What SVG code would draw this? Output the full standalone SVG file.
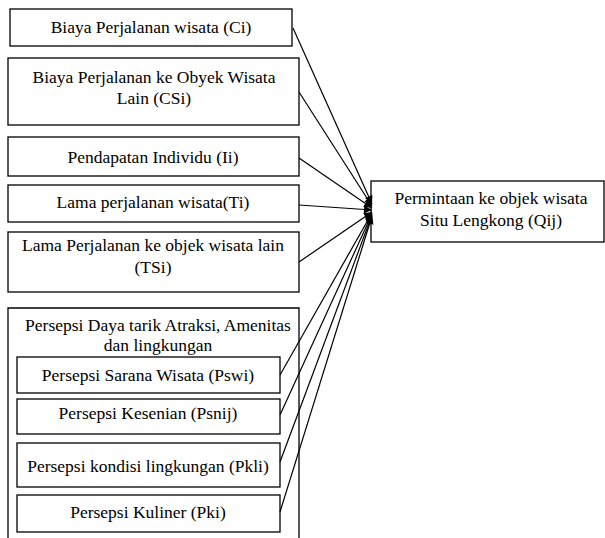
<svg xmlns="http://www.w3.org/2000/svg" width="605" height="538" viewBox="0 0 605 538">
<defs>
<marker id="ah" viewBox="0 0 10 10" refX="10" refY="5" markerWidth="9" markerHeight="8" markerUnits="userSpaceOnUse" orient="auto">
<path d="M0,0 L10,5 L0,10 z" fill="#000"/>
</marker>
<style>
rect{fill:#fff;stroke:#000;stroke-width:1.3}
text{font-family:"Liberation Serif","Times New Roman",serif;font-size:17.5px;fill:#000;text-anchor:middle}
#connectors line{stroke:#000;stroke-width:1.2;marker-end:url(#ah)}
</style>
</defs>
<rect x="0" y="0" width="605" height="538" style="fill:#fff;stroke:none"/>
<g id="ci"><rect x="10" y="9" width="282" height="37"/><text x="151" y="33">Biaya Perjalanan wisata (Ci)</text></g>
<g id="csi"><rect x="8" y="58" width="291" height="67"/><text x="154" y="83">Biaya Perjalanan ke Obyek Wisata</text><text x="154" y="104">Lain (CSi)</text></g>
<g id="ii"><rect x="8" y="137" width="291" height="39"/><text x="153" y="163">Pendapatan Individu (Ii)</text></g>
<g id="ti"><rect x="8" y="185" width="291" height="37"/><text x="153" y="208">Lama perjalanan wisata(Ti)</text></g>
<g id="tsi"><rect x="8" y="232" width="291" height="60"/><text x="153" y="251">Lama Perjalanan ke objek wisata lain</text><text x="153" y="273">(TSi)</text></g>
<g id="persepsi"><path d="M8,545 L8,308 L299,308 L299,545" fill="#fff" stroke="#000" stroke-width="1.3"/><text x="158" y="331">Persepsi Daya tarik Atraksi, Amenitas</text><text x="158" y="351">dan lingkungan</text></g>
<g id="pswi"><rect x="17" y="357" width="263" height="36"/><text x="148" y="381">Persepsi Sarana Wisata (Pswi)</text></g>
<g id="psnij"><rect x="17" y="399" width="263" height="35"/><text x="148" y="419">Persepsi Kesenian (Psnij)</text></g>
<g id="pkli"><rect x="17" y="443" width="263" height="44"/><text x="148" y="472">Persepsi kondisi lingkungan (Pkli)</text></g>
<g id="pki"><rect x="17" y="495" width="263" height="37"/><text x="148" y="518">Persepsi Kuliner (Pki)</text></g>
<g id="qij"><rect x="371" y="181" width="233" height="61"/><text x="491" y="204">Permintaan ke objek wisata</text><text x="491" y="226">Situ Lengkong (Qij)</text></g>
<g id="connectors">
<line x1="293" y1="28" x2="372" y2="204"/>
<line x1="299" y1="92" x2="372" y2="206"/>
<line x1="299" y1="158" x2="372" y2="208"/>
<line x1="299" y1="205" x2="372" y2="210"/>
<line x1="299" y1="262" x2="372" y2="212"/>
<line x1="280" y1="375" x2="372" y2="213"/>
<line x1="280" y1="415" x2="372" y2="214"/>
<line x1="280" y1="462" x2="372" y2="215"/>
<line x1="280" y1="512" x2="372" y2="216"/>
</g>
</svg>
